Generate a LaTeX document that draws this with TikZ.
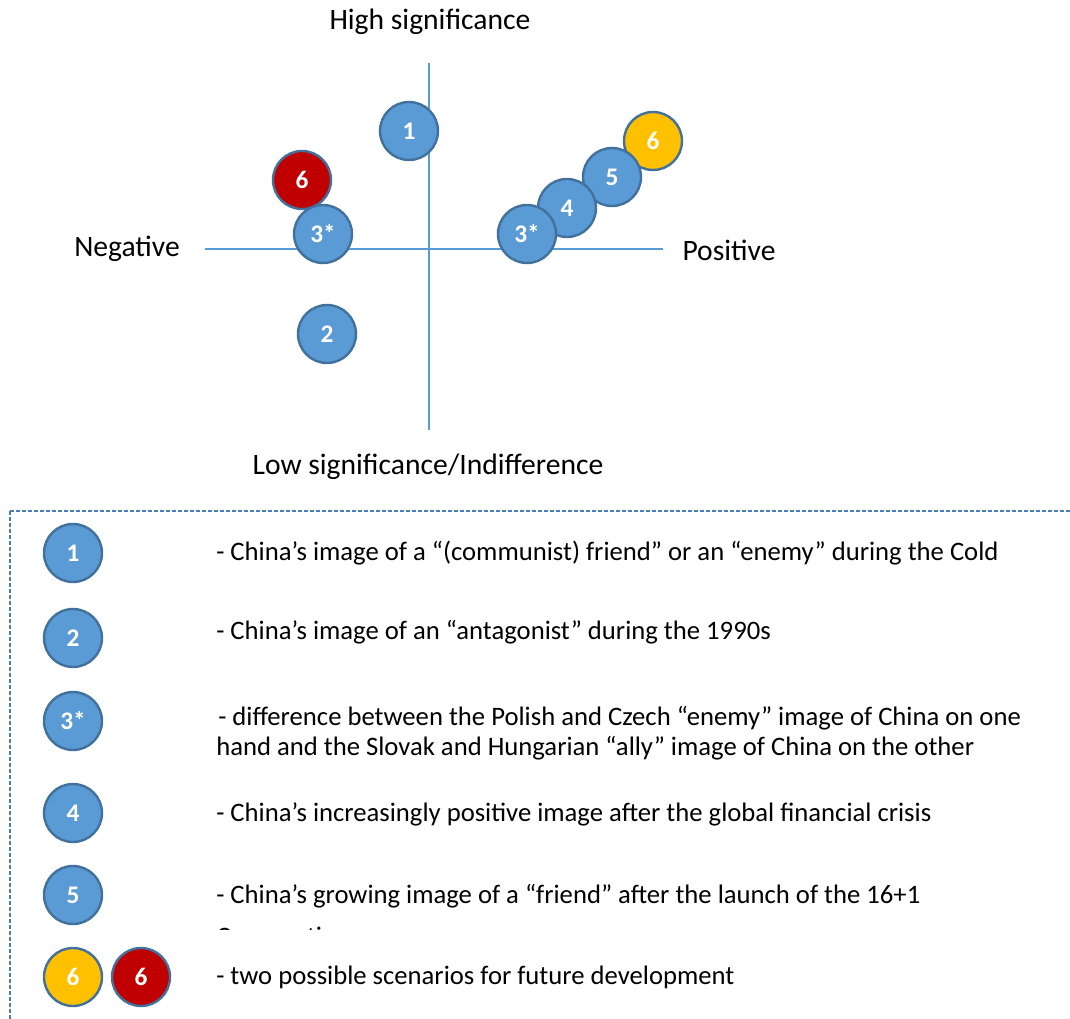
\documentclass[tikz,border=0pt]{standalone}
\usepackage{fontspec}
\setmainfont{Carlito}
\begin{document}
\begin{tikzpicture}[x=0.75pt,y=-0.75pt,
  axis/.style={draw=axisblue,line width=1pt},
  dot/.style={circle,draw=dotborder,line width=1.8pt,minimum size=43.5pt,inner sep=0pt,
    text=white,font=\fontsize{19}{22}\selectfont\bfseries},
  bluedot/.style={dot,fill=dotblue},
  reddot/.style={dot,fill=dotred},
  yellowdot/.style={dot,fill=dotyellow},
  axlabel/.style={font=\fontsize{22.2}{26}\selectfont,inner sep=0pt},
  legtext/.style={font=\fontsize{20}{22.5}\selectfont,inner sep=0pt,anchor=west,align=left}
]
\definecolor{axisblue}{HTML}{5B9BD5}
\definecolor{dotblue}{HTML}{5B9BD5}
\definecolor{dotborder}{HTML}{41719C}
\definecolor{dotred}{HTML}{C00000}
\definecolor{dotyellow}{HTML}{FFC000}
\definecolor{frameblue}{HTML}{4A7EBB}
\useasboundingbox (0,0) rectangle (1070,1019);
\clip (0,0) rectangle (1070,1019);
% axes
\coordinate (vtop) at (429,63);
\coordinate (vbot) at (429,430);
\coordinate (hl) at (205,249);
\coordinate (hr) at (663,249);
\draw[axis] (vtop) -- (vbot);
\draw[axis] (hl) -- (hr);
% axis labels
\node[axlabel] (hs) at (430,22) {High significance};
\node[axlabel] (neg) at (127,249) {Negative};
\node[axlabel] (pos) at (729,250) {Positive};
\node[axlabel] (ls) at (428,467) {Low significance/Indifference};
% circles in chart
\node[bluedot] (c1) at (409,131) {1};
\node[reddot] (c6r) at (302,180) {6};
\node[bluedot] (c3l) at (323,234) {3*};
\node[bluedot] (c2) at (327,334) {2};
\node[yellowdot] (c6y) at (653,141) {6};
\node[bluedot] (c5) at (612,177) {5};
\node[bluedot] (c4) at (567,208) {4};
\node[bluedot] (c3r) at (527,234) {3*};
% legend frame
\draw[draw=frameblue,line width=0.8pt,dash pattern=on 3pt off 1.5pt] (10,511) rectangle (1080,1030);
% legend entries
\node[bluedot] (l1) at (73,553) {1};
\node[legtext] (t1) at (216,553) {- China’s image of a “(communist) friend” or an “enemy” during the Cold};
\node[bluedot] (l2) at (73,638) {2};
\node[legtext] (t2) at (216,632) {- China’s image of an “antagonist” during the 1990s};
\node[bluedot] (l3) at (73,721) {3*};
\node[legtext] (t3) at (216,733) {\hspace{1.5pt}- difference between the Polish and Czech “enemy” image of China on one\\hand and the Slovak and Hungarian “ally” image of China on the other};
\node[bluedot] (l4) at (73,813) {4};
\node[legtext] (t4) at (216,814) {- China’s increasingly positive image after the global financial crisis};
\node[bluedot] (l5) at (73,895) {5};
\node[legtext] (t5) at (216,896) {- China’s growing image of a “friend” after the launch of the 16+1};
\begin{scope}
\clip (200,900) rectangle (1000,929);
\node[legtext] (t5b) at (216,938) {Cooperation};
\end{scope}
\node[yellowdot] (l6y) at (73,977) {6};
\node[reddot] (l6r) at (141,977) {6};
\node[legtext] (t6) at (216,977) {- two possible scenarios for future development};
\end{tikzpicture}
\end{document}
